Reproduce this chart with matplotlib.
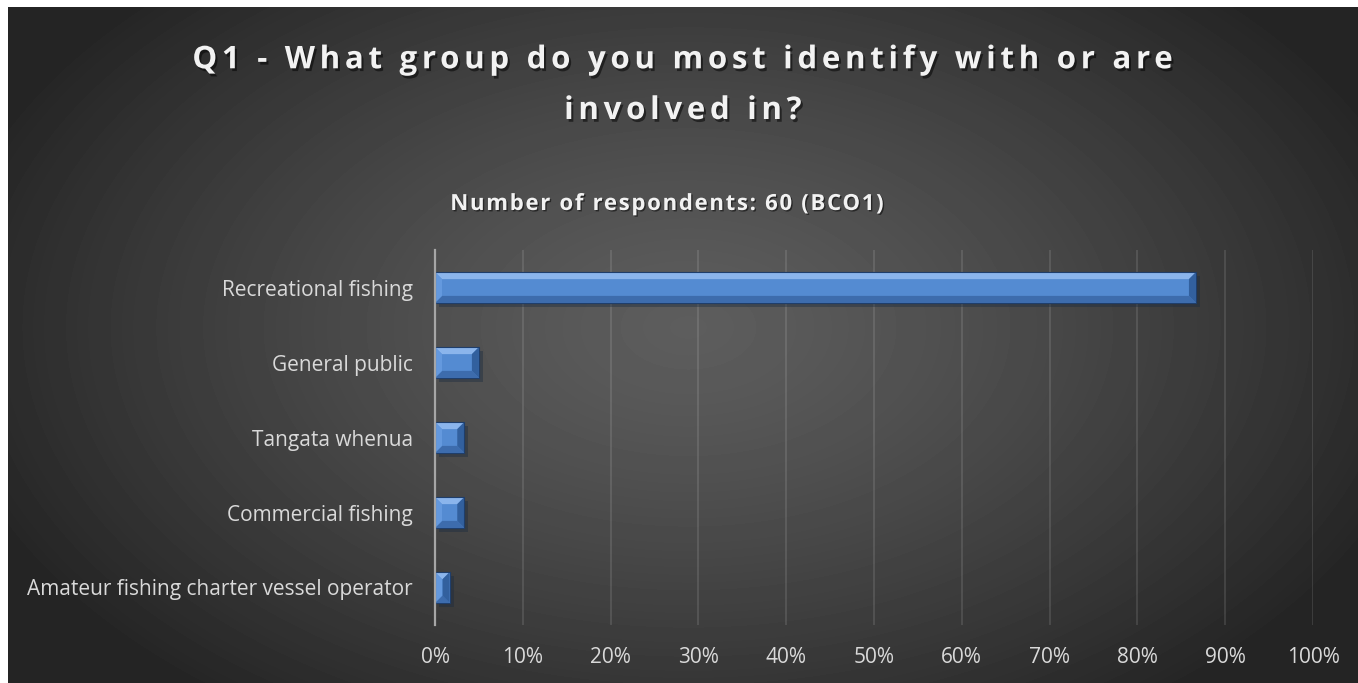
import numpy as np
import matplotlib
matplotlib.use("Agg")
import matplotlib.pyplot as plt
import matplotlib.patheffects as pe
from matplotlib.patches import Polygon
from matplotlib.path import Path
from matplotlib.font_manager import FontProperties
from matplotlib.textpath import text_to_path

# data (share of 60 respondents)
categories = ["Recreational fishing", "General public", "Tangata whenua",
              "Commercial fishing", "Amateur fishing charter vessel operator"]
shares = [52 / 60, 3 / 60, 2 / 60, 2 / 60, 1 / 60]
xticks = [0, 0.1, 0.2, 0.3, 0.4, 0.5, 0.6, 0.7, 0.8, 0.9, 1.0]
xticklabels = ["0%", "10%", "20%", "30%", "40%", "50%", "60%", "70%", "80%", "90%", "100%"]

title = "Q1 - What group do you most identify with or are\ninvolved in?"
subtitle = "Number of respondents: 60 (BCO1)"

font = "Open Sans"


class Tracking(pe.AbstractPathEffect):
    """Spread the glyphs of a text line apart (letter spacing), then run inner effects."""

    def __init__(self, text, track, inner):
        super().__init__()
        self.lines = text.split("\n")
        self.track = track * text_to_path.FONT_SCALE
        self.inner = inner
        self.prop = FontProperties(family=font, weight="bold")

    def _counts(self, line):
        f = text_to_path._get_font(self.prop)
        info, gmap, _ = text_to_path.get_glyphs_with_font(f, line)
        return [len(gmap[g[0]][0]) for g in info]

    def draw_path(self, renderer, gc, tpath, affine, rgbFace=None):
        path = tpath
        try:
            nv = len(tpath.vertices)
            for line in self.lines:
                counts = self._counts(line)
                if sum(counts) == nv:
                    n = len(counts)
                    shift = np.repeat(np.arange(n) * self.track, counts)
                    shift = shift - (n - 1) * self.track / 2
                    v = tpath.vertices.copy()
                    v[:, 0] += shift
                    path = Path(v, tpath.codes)
                    break
        except Exception:
            path = tpath
        for eff in self.inner:
            eff.draw_path(renderer, gc, path, affine, rgbFace)


W, H = 1358, 683
fig = plt.figure(figsize=(W / 100, H / 100), dpi=100, facecolor="white")

# dark radial background (leaves thin white strip at left/top like the original)
bg = fig.add_axes([8 / W, 0, 1 - 8 / W, 1 - 7 / H])
bg.set_axis_off()
yy, xx = np.mgrid[0:676, 0:1350]
r = np.sqrt(((xx - 680) / 760) ** 2 + ((yy - 320) / 470) ** 2)
r = np.clip(r, 0, 1) ** 1.3
val = 0.365 - (0.365 - 0.145) * r
bg.imshow(val, cmap="gray", vmin=0, vmax=1, aspect="auto", extent=[0, 1, 0, 1],
          origin="upper")
bg.set_xlim(0, 1)
bg.set_ylim(0, 1)

t_shadow = pe.SimplePatchShadow(offset=(1.5, -2), shadow_rgbFace="black", alpha=0.5)
# va="baseline" pins the last line's baseline
fig.text(683 / W, 1 - 119 / H, title, ha="center", va="baseline", fontsize=22.5,
         fontweight="bold", family=font, color="#f2f2f2", linespacing=1.9,
         path_effects=[Tracking(title, 0.15, [t_shadow, pe.Normal()])])
fig.text(667 / W, 1 - 210 / H, subtitle, ha="center", va="baseline", fontsize=16,
         fontweight="bold", family=font, color="#f2f2f2",
         path_effects=[Tracking(subtitle, 0.075,
                                [pe.SimplePatchShadow(offset=(1, -1), shadow_rgbFace="black", alpha=0.5),
                                 pe.Normal()])])

ax = fig.add_axes([435 / W, 1 - 625 / H, (1313 - 435) / W, (625 - 250) / H])
ax.patch.set_alpha(0)
ax.set_xlim(0, 1)
ax.set_ylim(len(categories) - 0.5, -0.5)

ypos = np.arange(len(categories))
bars = ax.barh(ypos, shares, height=0.41, color="#548bd2", zorder=3,
               path_effects=[pe.SimplePatchShadow(offset=(3, -3), alpha=0.4), pe.Normal()])

# bevel faces built from each bar's geometry
inv = ax.transData.inverted()
b = 7
for bar in bars:
    x0, y0 = bar.get_x(), bar.get_y()
    x1, y1 = x0 + bar.get_width(), y0 + bar.get_height()
    (px0, py_top), (px1, py_bot) = ax.transData.transform([(x0, y0), (x1, y1)])
    # display coords: py_top > py_bot because y axis is inverted
    bb = min(b, (px1 - px0) / 2)
    def d(pts):
        return inv.transform(pts)
    top = d([(px0, py_top), (px1, py_top), (px1 - bb, py_top - b), (px0 + bb, py_top - b)])
    bot = d([(px0, py_bot), (px1, py_bot), (px1 - bb, py_bot + b), (px0 + bb, py_bot + b)])
    left = d([(px0, py_top), (px0 + bb, py_top - b), (px0 + bb, py_bot + b), (px0, py_bot)])
    right = d([(px1, py_top), (px1 - bb, py_top - b), (px1 - bb, py_bot + b), (px1, py_bot)])
    for pts, c in [(top, "#8bb5ec"), (bot, "#3d6cad"), (left, "#6499de"), (right, "#32609e")]:
        ax.add_patch(Polygon(pts, closed=True, facecolor=c, edgecolor="none", zorder=4))
    ax.add_patch(Polygon(d([(px0, py_top), (px1, py_top), (px1, py_bot), (px0, py_bot)]),
                         closed=True, facecolor="none", edgecolor="#1f3e6b", lw=0.8, zorder=5))

ax.set_yticks(ypos)
ax.set_yticklabels(categories)
ax.set_xticks(xticks)
ax.set_xticklabels(xticklabels)
ax.tick_params(axis="both", length=0, colors="#d9d9d9", labelsize=15)
ax.tick_params(axis="y", pad=16)
ax.tick_params(axis="x", pad=16)
for lbl in ax.get_xticklabels() + ax.get_yticklabels():
    lbl.set_family(font)

ax.grid(axis="x", color="white", alpha=0.13, lw=1.2, zorder=1)
ax.set_axisbelow(True)
for s in ["top", "right", "bottom"]:
    ax.spines[s].set_visible(False)
ax.spines["left"].set_color("#a6a6a6")
ax.spines["left"].set_linewidth(1.6)
ax.spines["left"].set_zorder(6)

fig.savefig("out.png", dpi=100, facecolor="white")
